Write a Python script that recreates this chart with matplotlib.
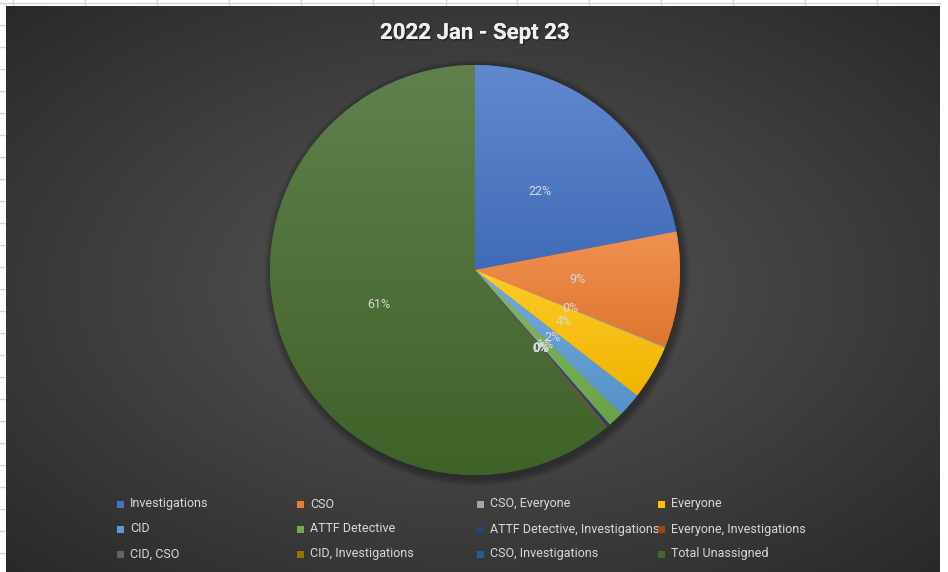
import numpy as np
import matplotlib
matplotlib.use("Agg")
import matplotlib.pyplot as plt
import matplotlib.patheffects as pe
from matplotlib.patches import Rectangle, Circle
from matplotlib.colors import to_rgb

plt.rcParams['font.family'] = ['Roboto', 'DejaVu Sans']

# ---- data ----
categories = ["Investigations", "CSO", "CSO, Everyone", "Everyone", "CID",
              "ATTF Detective", "ATTF Detective, Investigations",
              "Everyone, Investigations", "CID, CSO", "CID, Investigations",
              "CSO, Investigations", "Total Unassigned"]
shares = [22.0, 9.1, 0.1, 4.3, 1.9, 1.2, 0.25, 0.1, 0.02, 0.02, 0.02, 61.0]
colors = ["#4472C4", "#ED7D31", "#A5A5A5", "#FFC000", "#5B9BD5", "#70AD47",
          "#264478", "#9E480E", "#636363", "#997300", "#255E91", "#43682B"]
title = "2022 Jan - Sept 23"

W, H = 948, 572
fig = plt.figure(figsize=(W / 100, H / 100), dpi=100)
fig.patch.set_facecolor("white")
ax = fig.add_axes([0, 0, 1, 1])
ax.set_axis_off()

# spreadsheet gridlines around the chart
grid_c = "#d4d4d4"
ax.plot([0, 940], [H - 3, H - 3], color=grid_c, lw=1, zorder=0)
for gx in [13, 85, 157, 229, 301, 373, 446, 517, 589, 661, 733, 805, 877]:
    ax.plot([gx, gx], [H, H - 6], color=grid_c, lw=1, zorder=0)
for gy in range(25, 572, 22):
    ax.plot([0, 6], [H - gy, H - gy], color=grid_c, lw=1, zorder=0)

# chart area radial gradient background
x0, x1, y0, y1 = 6, 940, 6, 572
nx, ny = 400, 250
xs = np.linspace(0, 1, nx)
ys = np.linspace(0, 1, ny)
XX, YY = np.meshgrid(xs, ys)
r = np.sqrt(((XX - 0.5) / 0.5) ** 2 + ((YY - 0.5) / 0.5) ** 2) / np.sqrt(2)
r = np.clip(r, 0, 1)
c_in = np.array([0x55, 0x55, 0x55]) / 255
c_out = np.array([0x29, 0x29, 0x29]) / 255
t = r[..., None] ** 1.1
bg = c_in * (1 - t) + c_out * t
ax.imshow(bg, extent=[x0, x1, H - y1, H - y0], origin="upper", aspect="auto",
          zorder=0.5, interpolation="bilinear")

# pie geometry (pixels)
pcx, pcy, R = 475, H - 270, 205

# soft outer shadow
for i in range(1, 9):
    ax.add_patch(Circle((pcx + 2, pcy - 3), R + i, facecolor="black",
                        edgecolor="none", alpha=0.04, zorder=0.8))

wedges, texts, autotexts = ax.pie(
    shares, colors=colors, startangle=90, counterclock=False,
    center=(pcx, pcy), radius=R, autopct="%1.0f%%", pctdistance=0.5,
    textprops=dict(color="#d9d9d9", fontsize=9), frame=True,
    wedgeprops=dict(linewidth=0, zorder=1))

def mix(c, other, a):
    c = np.array(to_rgb(c)); o = np.array(to_rgb(other))
    return c * (1 - a) + o * a

# per-wedge vertical gradient (Excel style)
for w, c in zip(wedges, colors):
    bb = w.get_path().get_extents()
    top = mix(c, "white", 0.16)
    bot = mix(c, "black", 0.06)
    g = np.linspace(0, 1, 128)[:, None, None]
    grad = top * (1 - g) + bot * g
    grad = np.repeat(grad, 2, axis=1)
    im = ax.imshow(grad, extent=[bb.x0, bb.x1, bb.y0, bb.y1], origin="upper",
                   aspect="auto", zorder=1.5, interpolation="bilinear")
    im.set_clip_path(w)

for t_ in autotexts:
    t_.set_zorder(3)

# title
ax.text(pcx, H - 33, title, ha="center", va="center", fontsize=16,
        fontweight="bold", color="#f2f2f2", zorder=4,
        path_effects=[pe.withSimplePatchShadow(offset=(1, -1), shadow_rgbFace="black", alpha=0.45),
                      pe.Normal()])

# legend (row-major like Excel)
col_x = [117, 297, 477, 658]
row_y = [504, 529, 554]
for i, (lab, c) in enumerate(zip(categories, colors)):
    rr, cc = divmod(i, 4)
    lx, ly = col_x[cc], H - row_y[rr]
    ax.add_patch(Rectangle((lx, ly - 3.5), 7, 7, facecolor=c, edgecolor="none", zorder=4))
    ax.text(lx + 13, ly, lab, ha="left", va="center", fontsize=9,
            color="#d9d9d9", zorder=4)

ax.set_xlim(0, W)
ax.set_ylim(0, H)
ax.set_aspect("auto")
fig.savefig("out.png", dpi=100, facecolor=fig.get_facecolor())
